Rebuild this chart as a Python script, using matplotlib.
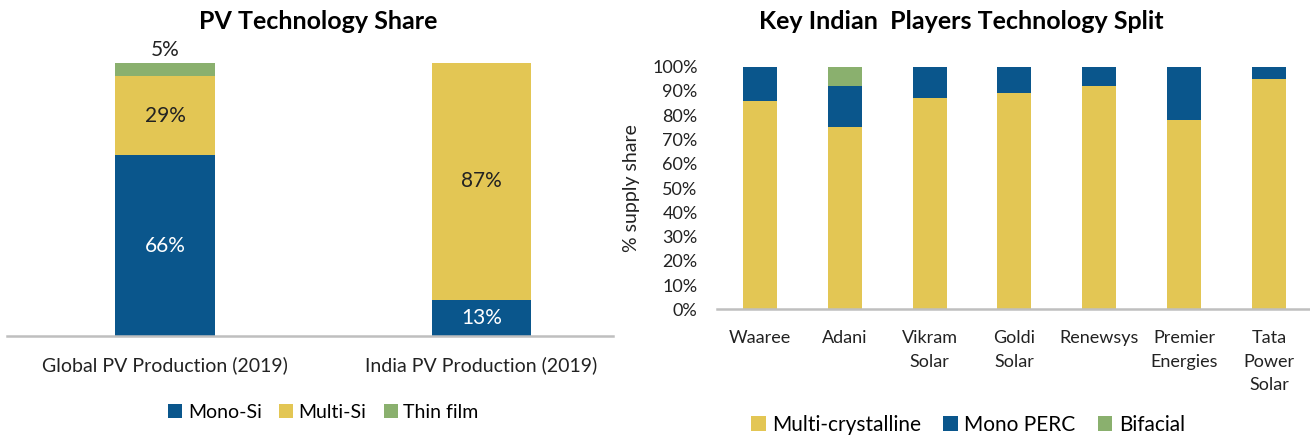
import matplotlib
matplotlib.use('Agg')
import matplotlib.pyplot as plt
import numpy as np

plt.rcParams['font.family'] = ['Lato', 'DejaVu Sans']

# left chart data
regions = ['Global PV Production (2019)', 'India PV Production (2019)']
mono_si = [66, 13]
multi_si = [29, 87]
thin_film = [5, 0]

# right chart data
players = ['Waaree', 'Adani', 'Vikram\nSolar', 'Goldi\nSolar', 'Renewsys',
           'Premier\nEnergies', 'Tata\nPower\nSolar']
multi_cryst = [0.86, 0.75, 0.87, 0.89, 0.92, 0.78, 0.95]
mono_perc = [0.14, 0.17, 0.13, 0.11, 0.08, 0.22, 0.05]
bifacial = [0.0, 0.08, 0.0, 0.0, 0.0, 0.0, 0.0]

BLUE = '#0A568C'
YELLOW = '#E3C654'
GREEN = '#8AB06E'
GRAY = '#BFBFBF'
TXT = '#222222'

fig = plt.figure(figsize=(13.1, 4.38), dpi=100)

# ---- left chart
ax1 = fig.add_axes([0.00534, 0.2336, 0.4626, 0.6233])
x = np.arange(len(regions))
w = 0.315
b1 = ax1.bar(x, mono_si, w, color=BLUE, label='Mono-Si')
b2 = ax1.bar(x, multi_si, w, bottom=mono_si, color=YELLOW, label='Multi-Si')
bot3 = [a + b for a, b in zip(mono_si, multi_si)]
b3 = ax1.bar(x, thin_film, w, bottom=bot3, color=GREEN, label='Thin film')
ax1.set_xlim(-0.499, 1.415)
ax1.set_ylim(0, 100)
for i in range(len(regions)):
    ax1.text(x[i], mono_si[i] / 2, f'{mono_si[i]}%', ha='center', va='center',
             color='white', fontsize=15)
    ax1.text(x[i], mono_si[i] + multi_si[i] / 2, f'{multi_si[i]}%', ha='center',
             va='center', color=TXT, fontsize=15)
    if thin_film[i] > 0:
        ax1.text(x[i], bot3[i] + thin_film[i] + 1, f'{thin_film[i]}%', ha='center',
                 va='bottom', color=TXT, fontsize=15, clip_on=False)
ax1.set_xticks(x)
ax1.set_xticklabels(regions, fontsize=14, color=TXT)
ax1.tick_params(axis='x', length=0, pad=15)
ax1.set_yticks([])
for s in ['top', 'left', 'right']:
    ax1.spines[s].set_visible(False)
ax1.spines['bottom'].set_color(GRAY)
ax1.spines['bottom'].set_linewidth(1.8)
fig.text(0.243, 0.952, 'PV Technology Share', ha='center', va='center',
         fontsize=18, fontweight='bold', color='black')
fig.legend(handles=[b1, b2, b3], loc='center', bbox_to_anchor=(0.247, 0.058),
           ncol=3, frameon=False, fontsize=14, handlelength=0.7, handleheight=0.7,
           handletextpad=0.3, columnspacing=0.9)

# ---- right chart
ax2 = fig.add_axes([0.5473, 0.2938, 0.4527, 0.5539])
xp = np.arange(len(players))
wp = 0.4
r1 = ax2.bar(xp, multi_cryst, wp, color=YELLOW, label='Multi-crystalline')
r2 = ax2.bar(xp, mono_perc, wp, bottom=multi_cryst, color=BLUE, label='Mono PERC')
bot_b = [a + b for a, b in zip(multi_cryst, mono_perc)]
r3 = ax2.bar(xp, bifacial, wp, bottom=bot_b, color=GREEN, label='Bifacial')
ax2.set_xlim(-0.503, 6.48)
ax2.set_ylim(0, 1)
yt = np.arange(0, 1.01, 0.1)
ax2.set_yticks(yt)
ax2.set_yticklabels([f'{int(round(v * 100))}%' for v in yt], fontsize=13, color=TXT)
ax2.set_xticks(xp)
ax2.set_xticklabels(players, fontsize=13, color=TXT, va='top', linespacing=1.58)
ax2.tick_params(axis='both', length=0)
ax2.tick_params(axis='x', pad=15)
ax2.tick_params(axis='y', pad=14)
ax2.set_ylabel('% supply share', fontsize=14, color=TXT, labelpad=9)
for s in ['top', 'left', 'right']:
    ax2.spines[s].set_visible(False)
ax2.spines['bottom'].set_color(GRAY)
ax2.spines['bottom'].set_linewidth(1.8)
fig.text(0.734, 0.952, 'Key Indian  Players Technology Split', ha='center',
         va='center', fontsize=18, fontweight='bold', color='black')
fig.legend(handles=[r1, r2, r3], loc='center', bbox_to_anchor=(0.739, 0.03),
           ncol=3, frameon=False, fontsize=15, handlelength=0.7, handleheight=0.7,
           handletextpad=0.3, columnspacing=1.07)

fig.savefig('out.png', dpi=100)
